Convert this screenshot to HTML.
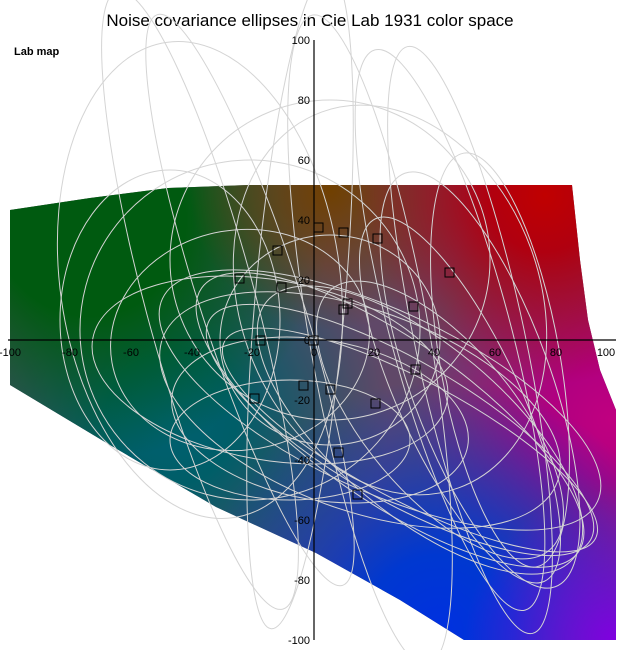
<!DOCTYPE html>
<html><head><meta charset="utf-8"><style>
html,body{margin:0;padding:0;background:#fff;}
svg{display:block;font-family:"Liberation Sans",sans-serif;}
</style></head><body>
<svg width="620" height="650" viewBox="0 0 620 650" xmlns="http://www.w3.org/2000/svg">
<defs>
<clipPath id="reg"><path d="M10,210 L90,198 L168,188 L248,185 L572,185 L580,260 L588,320 L600,370 L616,410 L616,640 L464,640 L400,600 L316,553 L216,507 L110,445 L10,385 Z"/></clipPath>
<radialGradient id="gG" cx="90" cy="220" r="240" gradientUnits="userSpaceOnUse"><stop offset="0" stop-color="#005a10"/><stop offset="0.4" stop-color="#005a10"/><stop offset="1" stop-color="#005a10" stop-opacity="0"/></radialGradient>
<radialGradient id="gBr" cx="330" cy="190" r="140" gradientUnits="userSpaceOnUse"><stop offset="0" stop-color="#704000"/><stop offset="1" stop-color="#704000" stop-opacity="0"/></radialGradient>
<radialGradient id="gR" cx="545" cy="195" r="190" gradientUnits="userSpaceOnUse"><stop offset="0" stop-color="#c00000"/><stop offset="0.3" stop-color="#b00010"/><stop offset="1" stop-color="#b00010" stop-opacity="0"/></radialGradient>
<radialGradient id="gM" cx="610" cy="420" r="200" gradientUnits="userSpaceOnUse"><stop offset="0" stop-color="#c00080"/><stop offset="0.3" stop-color="#b00080"/><stop offset="1" stop-color="#b00080" stop-opacity="0"/></radialGradient>
<radialGradient id="gB" cx="440" cy="630" r="250" gradientUnits="userSpaceOnUse"><stop offset="0" stop-color="#0030e0"/><stop offset="0.3" stop-color="#0038d0"/><stop offset="1" stop-color="#0038d0" stop-opacity="0"/></radialGradient>
<radialGradient id="gP" cx="615" cy="640" r="150" gradientUnits="userSpaceOnUse"><stop offset="0" stop-color="#8000e0"/><stop offset="1" stop-color="#8000e0" stop-opacity="0"/></radialGradient>
<radialGradient id="gT" cx="170" cy="420" r="220" gradientUnits="userSpaceOnUse"><stop offset="0" stop-color="#006070"/><stop offset="0.3" stop-color="#005e68"/><stop offset="1" stop-color="#005e68" stop-opacity="0"/></radialGradient>
</defs>
<text x="310" y="26" font-size="17" text-anchor="middle" fill="#000">Noise covariance ellipses in Cie Lab 1931 color space</text>
<text x="14" y="55" font-size="11" font-weight="bold" fill="#000">Lab map</text>
<g clip-path="url(#reg)">
<rect x="0" y="180" width="620" height="470" fill="#604868"/>
<rect x="0" y="180" width="620" height="470" fill="url(#gT)"/>
<rect x="0" y="180" width="620" height="470" fill="url(#gM)"/>
<rect x="0" y="180" width="620" height="470" fill="url(#gB)"/>
<rect x="0" y="180" width="620" height="470" fill="url(#gP)"/>
<rect x="0" y="180" width="620" height="470" fill="url(#gG)"/>
<rect x="0" y="180" width="620" height="470" fill="url(#gBr)"/>
<rect x="0" y="180" width="620" height="470" fill="url(#gR)"/>
</g>
<g fill="none" stroke="#d4d4d4" stroke-width="1">
<ellipse cx="290" cy="440" rx="120" ry="60"/>
<ellipse cx="320" cy="420" rx="150" ry="80" transform="rotate(10 320 420)"/>
<ellipse cx="400" cy="430" rx="220" ry="70" transform="rotate(30 400 430)"/>
<ellipse cx="390" cy="420" rx="230" ry="80" transform="rotate(35 390 420)"/>
<ellipse cx="410" cy="440" rx="210" ry="60" transform="rotate(28 410 440)"/>
<ellipse cx="380" cy="400" rx="240" ry="90" transform="rotate(25 380 400)"/>
<ellipse cx="420" cy="430" rx="200" ry="85" transform="rotate(40 420 430)"/>
<ellipse cx="360" cy="410" rx="210" ry="100" transform="rotate(20 360 410)"/>
<ellipse cx="440" cy="420" rx="170" ry="75" transform="rotate(50 440 420)"/>
<ellipse cx="460" cy="400" rx="200" ry="60" transform="rotate(65 460 400)"/>
<ellipse cx="480" cy="380" rx="220" ry="70" transform="rotate(70 480 380)"/>
<ellipse cx="450" cy="330" rx="290" ry="60" transform="rotate(75 450 330)"/>
<ellipse cx="470" cy="340" rx="300" ry="55" transform="rotate(78 470 340)"/>
<ellipse cx="500" cy="360" rx="210" ry="60" transform="rotate(80 500 360)"/>
<ellipse cx="330" cy="260" rx="160" ry="160"/>
<ellipse cx="390" cy="300" rx="150" ry="200" transform="rotate(-20 390 300)"/>
<ellipse cx="200" cy="280" rx="140" ry="240" transform="rotate(-8 200 280)"/>
<ellipse cx="170" cy="320" rx="110" ry="150"/>
<ellipse cx="250" cy="330" rx="170" ry="170" transform="rotate(-30 250 330)"/>
<ellipse cx="240" cy="340" rx="130" ry="110" transform="rotate(-10 240 340)"/>
<ellipse cx="270" cy="370" rx="180" ry="90" transform="rotate(10 270 370)"/>
<ellipse cx="330" cy="340" rx="110" ry="105"/>
<ellipse cx="250" cy="300" rx="300" ry="50" transform="rotate(72 250 300)"/>
<ellipse cx="200" cy="300" rx="320" ry="55" transform="rotate(75 200 300)"/>
<ellipse cx="300" cy="300" rx="330" ry="45" transform="rotate(-85 300 300)"/>
<ellipse cx="370" cy="340" rx="330" ry="60" transform="rotate(80 370 340)"/>
</g>
<g stroke="#000" stroke-width="1.2">
<line x1="8" y1="340" x2="616" y2="340"/>
<line x1="314" y1="40" x2="314" y2="640"/>
</g>
<g font-size="11" fill="#000" text-anchor="middle">
<text x="10" y="356">-100</text><text x="70" y="356">-80</text><text x="131" y="356">-60</text>
<text x="192" y="356">-40</text><text x="252" y="356">-20</text><text x="314" y="356">0</text>
<text x="374" y="356">20</text><text x="434" y="356">40</text><text x="495" y="356">60</text>
<text x="556" y="356">80</text><text x="606" y="356">100</text>
</g>
<g font-size="11" fill="#000" text-anchor="end">
<text x="310" y="44">100</text><text x="310" y="104">80</text><text x="310" y="164">60</text>
<text x="310" y="224">40</text><text x="310" y="284">20</text><text x="310" y="344">0</text>
<text x="310" y="404">-20</text><text x="310" y="464">-40</text><text x="310" y="524">-60</text>
<text x="310" y="584">-80</text><text x="310" y="644">-100</text>
</g>
<g fill="none" stroke="#000" stroke-width="1">
<rect x="314" y="223" width="9" height="9"/><rect x="339" y="228" width="9" height="9"/>
<rect x="373" y="234" width="9" height="9"/><rect x="273" y="246" width="9" height="9"/>
<rect x="235" y="274" width="9" height="9"/><rect x="277" y="283" width="9" height="9"/>
<rect x="445" y="268" width="9" height="9"/><rect x="343" y="299" width="9" height="9"/>
<rect x="339" y="305" width="9" height="9"/><rect x="409" y="302" width="9" height="9"/>
<rect x="256" y="336" width="9" height="9"/><rect x="309" y="336" width="9" height="9"/>
<rect x="411" y="365" width="9" height="9"/><rect x="299" y="381" width="9" height="9"/>
<rect x="326" y="385" width="9" height="9"/><rect x="250" y="394" width="9" height="9"/>
<rect x="371" y="399" width="9" height="9"/><rect x="334" y="448" width="9" height="9"/>
<rect x="353" y="490" width="9" height="9"/>
</g>
</svg>
</body></html>
